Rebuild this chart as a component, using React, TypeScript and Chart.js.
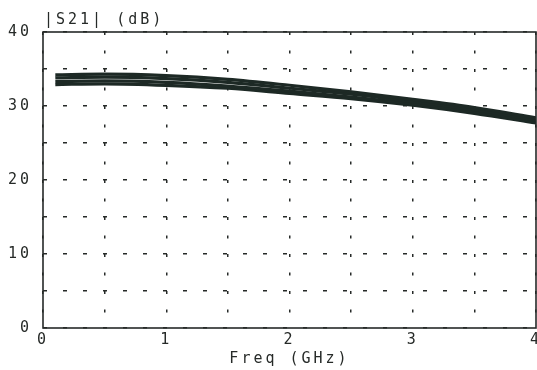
import React, { useEffect, useRef } from "react";
import { Chart, registerables } from "chart.js";

Chart.register(...registerables);

// ---- data ----
const freqGHz = [0.1, 0.5, 1.0, 1.5, 2.0, 2.5, 3.0, 3.5, 4.0];
const traceA = [34.2, 34.3, 34.1, 33.6, 32.8, 31.9, 30.9, 29.8, 28.4];
const traceB = [33.8, 33.9, 33.7, 33.2, 32.4, 31.6, 30.6, 29.5, 28.1];
const traceC = [33.3, 33.4, 33.2, 32.7, 32.0, 31.2, 30.3, 29.2, 27.8];
const traceD = [32.9, 33.0, 32.8, 32.4, 31.7, 31.0, 30.1, 29.0, 27.7];
const xTickLabels = ["0", "1", "2", "3", "4"];
const yTickLabels = ["0", "10", "20", "30", "40"];
const yTitle = "|S21| (dB)";
const xTitle = "Freq (GHz)";

const INK = "#262a28";
const TRACE = "#1d2925";
const FONT = "'DejaVu Sans Mono', 'Liberation Mono', monospace";

const framePlugin = {
  id: "frameAndTitle",
  beforeDraw(chart: any) {
    const ctx = chart.ctx;
    ctx.letterSpacing = "3px";
    ctx.save();
    ctx.fillStyle = "#ffffff";
    ctx.fillRect(0, 0, chart.width, chart.height);
    ctx.restore();
  },
  afterDraw(chart: any) {
    const { ctx, chartArea } = chart;
    ctx.save();
    ctx.strokeStyle = INK;
    ctx.lineWidth = 1.6;
    ctx.setLineDash([]);
    ctx.strokeRect(
      chartArea.left,
      chartArea.top,
      chartArea.right - chartArea.left,
      chartArea.bottom - chartArea.top
    );
    ctx.fillStyle = INK;
    ctx.font = `15px ${FONT}`;
    ctx.letterSpacing = "3px";
    ctx.textAlign = "left";
    ctx.textBaseline = "middle";
    ctx.fillText(yTitle, chartArea.left + 1, chartArea.top - 12);
    ctx.restore();
  },
};

function mkDataset(label: string, values: number[]) {
  return {
    label,
    data: freqGHz.map((f, i) => ({ x: f, y: values[i] })),
    borderColor: TRACE,
    borderWidth: 3.2,
    pointRadius: 0,
    fill: false,
    cubicInterpolationMode: "monotone" as const,
  };
}

export default function App() {
  const ref = useRef<HTMLCanvasElement | null>(null);

  useEffect(() => {
    if (!ref.current) return;
    const chart = new Chart(ref.current, {
      type: "line",
      data: {
        datasets: [
          mkDataset("A", traceA),
          mkDataset("B", traceB),
          mkDataset("C", traceC),
          mkDataset("D", traceD),
        ],
      },
      options: {
        animation: false,
        responsive: false,
        devicePixelRatio: 1,
        layout: { padding: { top: 32, right: 1, left: 0, bottom: 0 } },
        plugins: {
          legend: { display: false },
          tooltip: { enabled: false },
          title: { display: false },
        },
        scales: {
          x: {
            type: "linear",
            min: 0,
            max: 4,
            afterFit: (s: any) => {
              s.height = 42;
              s.paddingLeft = 0;
              s.paddingRight = 0;
            },
            ticks: {
              stepSize: 0.5,
              autoSkip: false,
              maxRotation: 0,
              padding: 3,
              color: INK,
              font: { family: FONT, size: 15 },
              callback: (v: any) => {
                const s = String(v);
                return xTickLabels.includes(s) ? s : "";
              },
            },
            grid: {
              color: INK,
              lineWidth: 1.5,
              drawTicks: false,
            },
            border: { display: false, dash: [3, 15.5] },
            title: {
              display: true,
              text: xTitle,
              color: INK,
              font: { family: FONT, size: 15 },
              padding: { top: 0, bottom: 2 },
            },
          },
          y: {
            type: "linear",
            min: 0,
            max: 40,
            afterFit: (s: any) => {
              s.width = 43;
              s.paddingTop = 0;
              s.paddingBottom = 0;
            },
            ticks: {
              stepSize: 5,
              autoSkip: false,
              padding: 11,
              color: INK,
              font: { family: FONT, size: 15 },
              callback: (v: any) => {
                const s = String(v);
                return yTickLabels.includes(s) ? s : "";
              },
            },
            grid: {
              color: INK,
              lineWidth: 1.5,
              drawTicks: false,
            },
            border: { display: false, dash: [4, 16] },
          },
        },
      },
      plugins: [framePlugin],
    });
    return () => chart.destroy();
  }, []);

  return (
    <div style={{ position: "absolute", left: 0, top: 0, width: 537, height: 370, background: "#fff" }}>
      <canvas ref={ref} width={537} height={370} style={{ display: "block" }} />
    </div>
  );
}
